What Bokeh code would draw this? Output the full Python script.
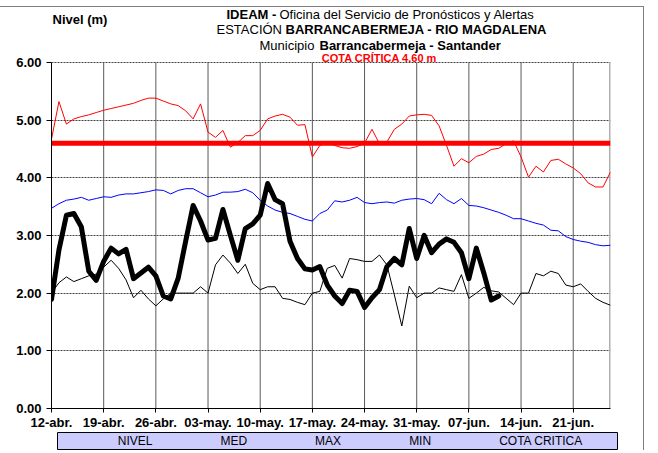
from bokeh.plotting import figure
from bokeh.models import (Range1d, FixedTicker, NumeralTickFormatter, Label,
                          Legend, LegendItem)
from bokeh.layouts import column
from bokeh.embed import file_html
from bokeh.resources import INLINE

# ---------------- data ----------------
tick_days = [0, 7, 14, 21, 28, 35, 42, 49, 56, 63, 70]
tick_labels = ["12-abr.", "19-abr.", "26-abr.", "03-may.", "10-may.", "17-may.",
               "24-may.", "31-may.", "07-jun.", "14-jun.", "21-jun."]
n_days = 76  # 12-abr. .. 26-jun.
y_ticks = [0, 1, 2, 3, 4, 5, 6]

nivel = [1.89, 2.75, 3.35, 3.38, 3.15, 2.38, 2.22, 2.55, 2.78, 2.68, 2.76, 2.25, 2.35, 2.45,
         2.30, 1.95, 1.90, 2.26, 2.90, 3.52, 3.25, 2.92, 2.95, 3.45, 3.00, 2.57, 3.12, 3.20,
         3.35, 3.90, 3.62, 3.55, 2.90, 2.60, 2.42, 2.40, 2.46, 2.14, 1.95, 1.82, 2.05, 2.03,
         1.75, 1.92, 2.06, 2.46, 2.60, 2.49, 3.12, 2.60, 3.00, 2.70, 2.85, 2.94, 2.88, 2.70,
         2.25, 2.78, 2.35, 1.88, 1.95]

med = [3.47, 3.55, 3.61, 3.63, 3.66, 3.61, 3.64, 3.67, 3.66, 3.70, 3.72, 3.72, 3.74, 3.76,
       3.79, 3.78, 3.72, 3.78, 3.81, 3.81, 3.74, 3.67, 3.70, 3.75, 3.75, 3.76, 3.80, 3.74,
       3.61, 3.51, 3.44, 3.40, 3.38, 3.33, 3.28, 3.25, 3.38, 3.44, 3.60, 3.58, 3.61, 3.66,
       3.57, 3.55, 3.57, 3.58, 3.56, 3.61, 3.63, 3.64, 3.62, 3.55, 3.73, 3.62, 3.55, 3.64,
       3.52, 3.51, 3.48, 3.44, 3.40, 3.35, 3.29, 3.29, 3.25, 3.21, 3.18, 3.09, 3.08, 2.98,
       2.93, 2.90, 2.88, 2.84, 2.82, 2.83]

maxv = [4.67, 5.32, 4.93, 5.02, 5.06, 5.09, 5.13, 5.17, 5.20, 5.23, 5.26, 5.29, 5.34, 5.38,
        5.38, 5.33, 5.28, 5.25, 5.16, 5.02, 5.28, 4.79, 4.70, 4.82, 4.53, 4.61, 4.73, 4.73,
        4.82, 5.02, 5.07, 5.10, 5.05, 4.91, 4.92, 4.36, 4.56, 4.60, 4.56, 4.52, 4.51, 4.54,
        4.60, 4.84, 4.59, 4.62, 4.84, 4.93, 5.07, 5.09, 5.10, 5.08, 4.90, 4.56, 4.20, 4.33,
        4.26, 4.37, 4.41, 4.49, 4.51, 4.59, 4.64, 4.36, 4.01, 4.20, 4.10, 4.30, 4.32, 4.24,
        4.17, 4.07, 3.91, 3.84, 3.84, 4.10]

minv = [2.00, 2.18, 2.28, 2.20, 2.25, 2.30, 2.33, 2.45, 2.57, 2.43, 2.23, 1.92, 2.05, 1.90,
        1.78, 1.90, 2.00, 2.00, 2.00, 2.00, 2.11, 2.00, 2.49, 2.66, 2.52, 2.34, 2.50, 2.17,
        2.06, 2.11, 2.11, 1.91, 1.89, 1.84, 1.80, 2.00, 2.03, 2.43, 2.48, 2.26, 2.60, 2.58,
        2.55, 2.55, 2.66, 2.49, 1.97, 1.43, 2.12, 1.92, 2.00, 2.00, 2.09, 2.06, 2.03, 2.32,
        1.91, 2.00, 2.10, 2.04, 2.02, 1.91, 1.80, 2.00, 2.00, 2.34, 2.30, 2.38, 2.34, 2.14,
        2.11, 2.16, 2.03, 1.91, 1.84, 1.79]

cota_critica = 4.60

days = list(range(n_days))
FONT = "Liberation Sans"

# ---------------- layout (page pixels) ----------------
TOP = 6                       # outer border line
FIG_W = 643
FRAME_L, FRAME_R = 51, 610    # plot area on the page
Y6_PX, Y0_PX = 62, 409        # page y of 6.00 and 0.00
X_END, Y_MAX = 75, 6
PX_PER_UNIT = (Y0_PX - Y6_PX) / Y_MAX
FRAME_TOP_PX = TOP + 1
Y_TOP = (Y0_PX - FRAME_TOP_PX) / PX_PER_UNIT


def dx(px):
    return (px - FRAME_L) / (FRAME_R - FRAME_L) * X_END


def dy(py):
    return (Y0_PX - py) / PX_PER_UNIT


BORDER_BOTTOM = 23
MAIN_H = (Y0_PX - FRAME_TOP_PX) + BORDER_BOTTOM

# ---------------- main figure ----------------
p = figure(width=FIG_W, height=MAIN_H,
           x_range=Range1d(0, X_END), y_range=Range1d(0, Y_TOP),
           output_backend="svg", toolbar_location=None,
           min_border_left=FRAME_L, min_border_right=FIG_W - FRAME_R,
           min_border_top=0, min_border_bottom=BORDER_BOTTOM)
p.outline_line_color = None
p.background_fill_color = "white"
p.border_fill_color = "white"

# axes
p.xaxis.ticker = FixedTicker(ticks=tick_days)
p.xaxis.major_label_overrides = {d: l for d, l in zip(tick_days, tick_labels)}
p.yaxis.ticker = FixedTicker(ticks=y_ticks)
p.yaxis.formatter = NumeralTickFormatter(format="0.00")
p.yaxis.bounds = (0, Y_MAX)
for ax in (p.xaxis[0], p.yaxis[0]):
    ax.axis_line_color = "black"
    ax.axis_line_width = 1
    ax.major_tick_line_color = "black"
    ax.minor_tick_line_color = None
    ax.major_tick_in = 0
    ax.major_label_text_font = FONT
    ax.major_label_text_font_style = "bold"
    ax.major_label_text_font_size = "13px"
    ax.major_label_text_color = "black"
p.xaxis.major_tick_out = 4
p.xaxis.major_label_standoff = 2
p.yaxis.major_tick_out = 5
p.yaxis.major_label_standoff = 5

# grids: dotted horizontal lines from the library grid, weekly verticals limited to 0..6
p.xgrid.visible = False
p.ygrid.ticker = FixedTicker(ticks=y_ticks[1:])
p.ygrid.grid_line_color = "#404040"
p.ygrid.grid_line_dash = "2 1"
p.ygrid.grid_line_width = 1
p.segment(x0=tick_days[1:], y0=0, x1=tick_days[1:], y1=Y_MAX,
          line_color="#5a5a5a", line_width=1)
p.segment(x0=[X_END], y0=0, x1=[X_END], y1=Y_MAX, line_color="#b0b0b0", line_width=3)

# series
p.line(days, maxv, line_color="#FF0000", line_width=1, line_join="round")
p.line(days, med, line_color="#0000FF", line_width=1, line_join="round")
p.line(days, minv, line_color="black", line_width=1, line_join="round")
p.line([days[0], days[-1]], [cota_critica, cota_critica], line_color="#FF0000", line_width=5)
p.line(days[:len(nivel)], nivel, line_color="black", line_width=5, line_join="round",
       line_cap="round")


# texts
def add_text(px, py, text, bold=False, size="13px", color="black", align="left"):
    p.add_layout(Label(x=dx(px), y=dy(py), text=text, text_font=FONT,
                       text_font_style="bold" if bold else "normal",
                       text_font_size=size, text_color=color,
                       text_align=align, text_baseline="middle"))


add_text(52, 19, "Nivel (m)", bold=True)
add_text(226, 14, "IDEAM -", bold=True)
add_text(279, 14, "Oficina del Servicio de Pronósticos y Alertas")
add_text(216, 29, "ESTACIÓN")
add_text(285, 29, "BARRANCABERMEJA - RIO MAGDALENA", bold=True)
add_text(259, 45, "Municipio")
add_text(319, 45, "Barrancabermeja - Santander", bold=True)
add_text(379, 58, "COTA CRÍTICA 4.60 m", bold=True, size="11px", color="#FF0000", align="center")

# ---------------- legend strip ----------------
LG_L, LG_R = 57, 617
lg = figure(width=FIG_W, height=18, x_range=Range1d(0, 1), y_range=Range1d(0, 1),
            output_backend="svg", toolbar_location=None, x_axis_type=None, y_axis_type=None,
            min_border_left=LG_L, min_border_right=FIG_W - LG_R,
            min_border_top=0, min_border_bottom=1)
lg.background_fill_color = "#CCCCFF"
lg.border_fill_color = "white"
lg.outline_line_color = "black"
lg.outline_line_width = 1
r_niv = lg.line([], [], line_color="black", line_width=5)
r_med = lg.line([], [], line_color="#0000FF", line_width=1)
r_max = lg.line([], [], line_color="#FF0000", line_width=1)
r_min = lg.line([], [], line_color="black", line_width=1)
r_cot = lg.line([], [], line_color="#FF0000", line_width=5)
legend = Legend(items=[LegendItem(label="NIVEL", renderers=[r_niv]),
                       LegendItem(label="MED", renderers=[r_med]),
                       LegendItem(label="MAX", renderers=[r_max]),
                       LegendItem(label="MIN", renderers=[r_min]),
                       LegendItem(label="COTA CRITICA", renderers=[r_cot])],
                orientation="horizontal", location="center",
                background_fill_alpha=0, border_line_alpha=0,
                padding=0, margin=0, spacing=42, glyph_width=25, glyph_height=12,
                label_height=12, label_standoff=1,
                label_text_font=FONT, label_text_font_size="12px", label_text_color="black")
lg.add_layout(legend)

# keep the two plot areas independent (no frame alignment inside the column)
for fig in (p, lg):
    try:
        fig.frame_align = False
    except AttributeError:
        pass

layout = column(p, lg, width=FIG_W + 1,
                styles={"margin-top": "%dpx" % TOP,
                        "width": "%dpx" % (FIG_W + 1),
                        "min-width": "%dpx" % (FIG_W + 1),
                        "box-sizing": "border-box",
                        "border-top": "1px solid #808080",
                        "border-right": "1px solid #808080"})

open("out.html", "w").write(file_html(layout, INLINE))
